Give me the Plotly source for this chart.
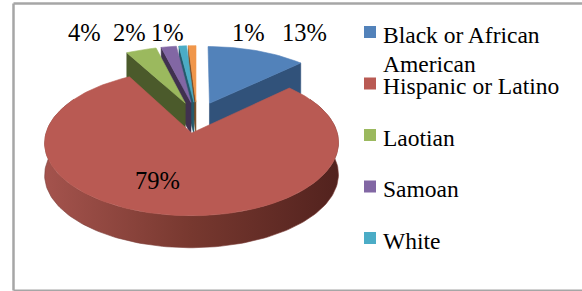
import textwrap
import numpy as np
import plotly.graph_objects as go

# ---------------- data ----------------
categories = ["Black or African American", "Hispanic or Latino", "Laotian",
              "Samoan", "White", "Other"]
shares = [13, 79, 4, 2, 1, 1]
pct_labels = ["13%", "79%", "4%", "2%", "1%", "1%"]
legend_items = categories[:5]

# ---------------- style ----------------
top_colors = ["#5282BA", "#B95A53", "#9BB95E", "#8267A4", "#4BACC6", "#F0964A"]
side_colors = ["#31527A", "#7A3B35", "#4B5A2B", "#40314F", "#24596A", "#7A4A22"]
red_wall_scale = [[0, "#A4534D"], [0.5, "#77382F"], [1, "#52221E"]]

W, H = 582, 291
CX, CY = 196.9, 117.2
RX, RY = 141.3, 67.5
P = 0.13           # perspective strength
DEPTH = 32.0
EXPLODE = 0.23
FONT = "Liberation Serif, Times New Roman, serif"

label_pos = {
    "Black or African American": (304, 32),
    "Hispanic or Latino": (157, 180),
    "Laotian": (84, 32),
    "Samoan": (129, 32),
    "White": (167, 32),
    "Other": (248, 32),
}


def proj(u, w):
    d = 1 + P * w
    return CX + RX * u / d, CY - RY * w / d


def arc(off, a, b, n=None):
    if n is None:
        n = max(4, int(abs(b - a) / 1.5))
    th = np.radians(np.linspace(a, b, n))
    u = off[0] + np.sin(th)
    w = off[1] + np.cos(th)
    return proj(u, w)


fig = go.Figure()


def poly(xs, ys, color, gradient=None):
    xs = list(xs) + [xs[0]]
    ys = list(ys) + [ys[0]]
    kw = dict(x=xs, y=ys, mode="lines", fill="toself", hoverinfo="skip",
              showlegend=False, line=dict(width=0.6, color=color))
    if gradient is not None:
        kw["fillgradient"] = dict(type="horizontal", colorscale=gradient)
    else:
        kw["fillcolor"] = color
    fig.add_trace(go.Scatter(**kw))


total = sum(shares)
bounds = np.concatenate([[0], np.cumsum(shares)]) * 360.0 / total
slices = []
for i, v in enumerate(shares):
    a, b = bounds[i], bounds[i + 1]
    m = np.radians((a + b) / 2)
    off = (EXPLODE * np.sin(m), EXPLODE * np.cos(m))
    slices.append((i, a, b, off))

# painter's order: far small slices first, red (front) last
order = [5, 4, 3, 2, 0, 1]
for i in order:
    _, a, b, off = slices[i]
    ax_, ay_ = proj(*off)
    # radial faces
    for ang, vis in ((a, np.sin(np.radians(a)) < 0), (b, np.sin(np.radians(b)) > 0)):
        if vis and (b - a) < 359:
            rx_, ry_ = arc(off, ang, ang, 1)
            poly([ax_, rx_[0], rx_[0], ax_],
                 [ay_, ry_[0], ry_[0] + DEPTH, ay_ + DEPTH], side_colors[i])
    # outer wall (near side)
    lo, hi = max(a, 60), min(b, 300)
    if hi > lo:
        tx, ty = arc(off, lo, hi)
        xs = list(tx) + list(tx[::-1])
        ys = list(ty) + list(ty[::-1] + DEPTH)
        poly(xs, ys, side_colors[i], gradient=red_wall_scale if i == 1 else None)
    # top face
    tx, ty = arc(off, a, b)
    poly([ax_] + list(tx), [ay_] + list(ty), top_colors[i])

# percentage labels
for i, cat in enumerate(categories):
    x, y = label_pos[cat]
    fig.add_annotation(x=x, y=y, text=pct_labels[i], showarrow=False,
                       xanchor="center", yanchor="middle",
                       font=dict(family=FONT, size=24.5, color="black"))

# legend (custom, first five entries visible as in the reference)
LEG_X, LEG_Y0, LEG_STEP, SQ = 364, 32, 51.5, 12
for k, cat in enumerate(legend_items):
    cy = LEG_Y0 + k * LEG_STEP
    fig.add_shape(type="rect", x0=LEG_X, x1=LEG_X + SQ, y0=cy - SQ / 2, y1=cy + SQ / 2,
                  fillcolor=top_colors[k], line=dict(width=0))
    lines = textwrap.wrap(cat, 18)
    for j, line in enumerate(lines):
        fig.add_annotation(x=LEG_X + 17, y=cy + 2.5 + j * 29, text=line,
                           showarrow=False, xanchor="left", yanchor="middle",
                           font=dict(family=FONT, size=23.5, color="black"))

# chart border
border = "#A6A6A6"
fig.add_shape(type="line", x0=13.5, x1=13.5, y0=3.5, y1=290.5, line=dict(color=border, width=2.5))
fig.add_shape(type="line", x0=13.5, x1=W + 5, y0=3.5, y1=3.5, line=dict(color=border, width=2.5))
fig.add_shape(type="line", x0=13.5, x1=W + 5, y0=290.2, y1=290.2, line=dict(color=border, width=1.5))

fig.update_xaxes(range=[0, W], visible=False, fixedrange=True)
fig.update_yaxes(range=[H, 0], visible=False, fixedrange=True)
fig.update_layout(width=W, height=H, margin=dict(l=0, r=0, t=0, b=0),
                  paper_bgcolor="white", plot_bgcolor="white", showlegend=False)

fig.write_html("out.html", config={"displayModeBar": False},
               post_script="document.body.style.margin='0';document.body.style.overflow='hidden';")
